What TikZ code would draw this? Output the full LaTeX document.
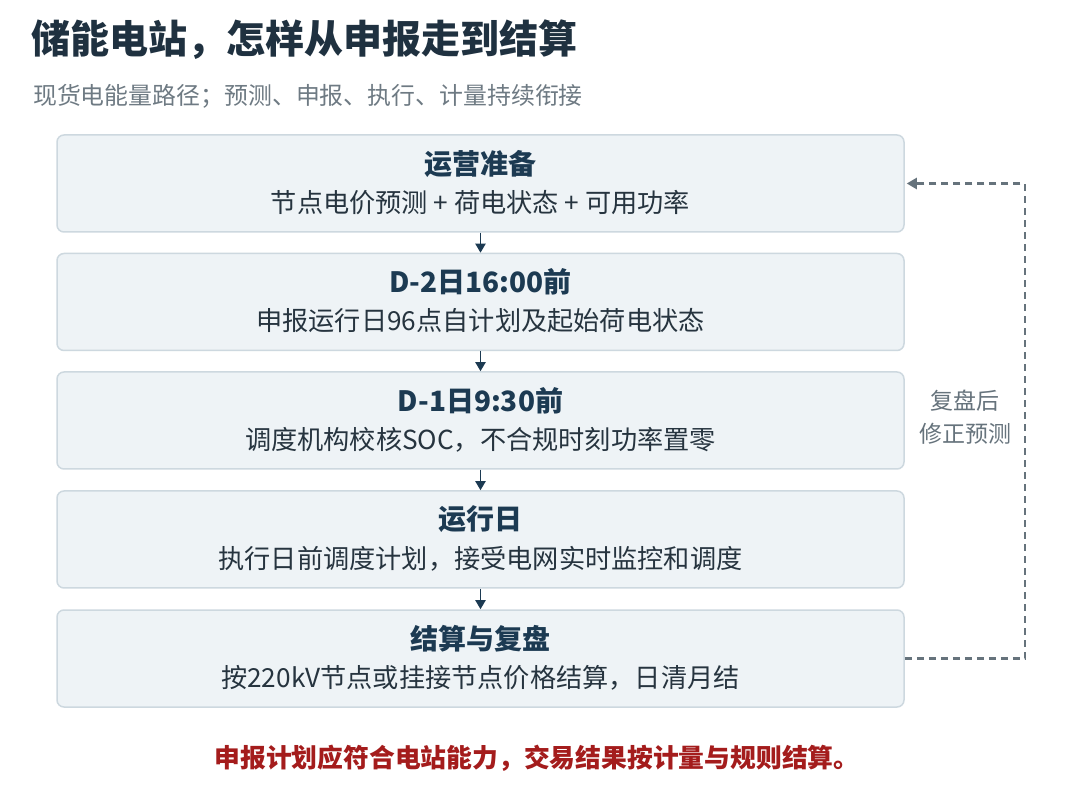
\documentclass[tikz,border=0pt]{standalone}
\usepackage{fontspec}
\setmainfont{Noto Sans CJK SC}
\usetikzlibrary{arrows.meta}
\definecolor{titlec}{HTML}{1F3140}
\definecolor{subc}{HTML}{6E7A83}
\definecolor{boxfill}{HTML}{EEF3F6}
\definecolor{boxline}{HTML}{CDD8DF}
\definecolor{headc}{HTML}{1C3A52}
\definecolor{bodyc}{HTML}{26343F}
\definecolor{flowc}{HTML}{1C3A52}
\definecolor{fbc}{HTML}{66737C}
\definecolor{redc}{HTML}{A41C1C}
\tikzset{
  stepbox/.style={draw=boxline, fill=boxfill, line width=1.5pt, rounded corners=7pt, minimum width=847pt, minimum height=97pt, inner sep=0pt},
  headtxt/.style={font=\fontsize{28}{32}\selectfont\bfseries, text=headc, inner sep=0pt},
  bodytxt/.style={font=\fontsize{26.2}{30}\selectfont, text=bodyc, inner sep=0pt},
  flow/.style={draw=flowc, line width=1.8pt, -{Triangle[length=9pt,width=10pt]}},
  fb/.style={draw=fbc, line width=2.2pt, dash pattern=on 7pt off 5pt, -{Triangle[length=10pt,width=11pt]}},
}
\begin{document}
\begin{tikzpicture}[x=1pt,y=-1pt]
\useasboundingbox (0,0) rectangle (1080,799);
\fill[white] (0,0) rectangle (1080,799);
\node[anchor=west, font=\fontsize{39}{44}\selectfont\bfseries, text=titlec, inner sep=0pt] (title) at (31,40) {储能电站，怎样从申报走到结算};
\node[anchor=west, font=\fontsize{23.9}{28}\selectfont, text=subc, inner sep=0pt] (subtitle) at (33,96) {现货电能量路径；预测、申报、执行、计量持续衔接};

\node[stepbox] (b1) at (480.5,183.5) {};
\node[stepbox] (b2) at (480.5,302) {};
\node[stepbox] (b3) at (480.5,420.5) {};
\node[stepbox] (b4) at (480.5,539.5) {};
\node[stepbox] (b5) at (480.5,658.5) {};

\node[headtxt] (h1) at ([yshift=20pt]b1.center) {运营准备};
\node[bodytxt] (d1) at ([yshift=-19pt]b1.center) {节点电价预测 + 荷电状态 + 可用功率};
\node[headtxt] (h2) at ([yshift=20pt]b2.center) {D-2日16:00前};
\node[bodytxt] (d2) at ([yshift=-19pt]b2.center) {申报运行日96点自计划及起始荷电状态};
\node[headtxt] (h3) at ([yshift=20pt]b3.center) {D-1日9:30前};
\node[bodytxt] (d3) at ([yshift=-19pt]b3.center) {调度机构校核SOC，不合规时刻功率置零};
\node[headtxt] (h4) at ([yshift=20pt]b4.center) {运行日};
\node[bodytxt] (d4) at ([yshift=-19pt]b4.center) {执行日前调度计划，接受电网实时监控和调度};
\node[headtxt] (h5) at ([yshift=20pt]b5.center) {结算与复盘};
\node[bodytxt] (d5) at ([yshift=-19pt]b5.center) {按220kV节点或挂接节点价格结算，日清月结};

\draw[flow] (b1.south) -- (b2.north);
\draw[flow] (b2.south) -- (b3.north);
\draw[flow] (b3.south) -- (b4.north);
\draw[flow] (b4.south) -- (b5.north);

\coordinate (fbc1) at (1025,658.5);
\draw[fb] (b5.east) -- (fbc1) |- ([xshift=2pt]b1.east);
\node[align=center, font=\fontsize{23}{33}\selectfont, text=fbc, inner sep=0pt] (fblabel) at (965,417) {复盘后\\修正预测};

\node[font=\fontsize{25.8}{30}\selectfont\bfseries, text=redc, inner sep=0pt] (note) at (537,758) {申报计划应符合电站能力，交易结果按计量与规则结算。};
\end{tikzpicture}
\end{document}
